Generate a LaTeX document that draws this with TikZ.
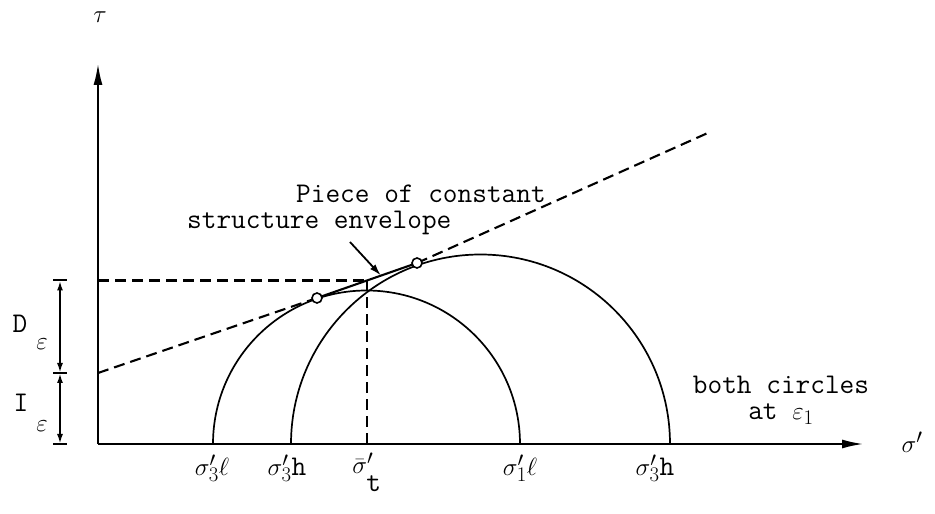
\documentclass[tikz,border=0pt]{standalone}
\usepackage{fontspec}
\usetikzlibrary{arrows.meta,calc}
\begin{document}
\begin{tikzpicture}[x=1pt,y=1pt,
  font=\ttfamily\fontsize{28.5}{26}\selectfont,
  axis/.style={line width=2.4pt,-{Latex[length=22pt,width=9pt]}},
  circ/.style={line width=1.7pt},
  envdash/.style={line width=2.1pt,dash pattern=on 11pt off 6pt},
  envsolid/.style={line width=2.1pt},
  dimline/.style={line width=2pt,{Latex[length=10pt,width=6pt]}-{Latex[length=10pt,width=6pt]}},
  dimbar/.style={line width=2pt},
  tangmark/.style={circle,draw,line width=1.6pt,fill=white,inner sep=0pt,minimum size=10pt},
  lbl/.style={inner sep=0pt}
]
\useasboundingbox (0,0) rectangle (935,514);

% key points
\coordinate (O) at (98,70);
\coordinate (Ytip) at (98,451);
\coordinate (Xtip) at (864,70);
\coordinate (E0) at (98,141);
\coordinate (T1) at (317,216);
\coordinate (T2) at (417,251);
\coordinate (E1) at (710,382);
\coordinate (H) at ($(T1)!0.5!(T2)$);
\coordinate (Hax) at (98,233.5);
\coordinate (Hbot) at (367,70);

% axes
\draw[axis] (O) -- (Ytip);
\draw[axis] (O) -- (Xtip);

% circles
\draw[circ] (213,70) arc[start angle=180,end angle=0,radius=153.5];
\draw[circ] (291,70) arc[start angle=180,end angle=0,radius=189.5];

% envelope
\draw[envdash] (E0) -- (T1);
\draw[envsolid] (T1) -- (T2);
\draw[envdash] (T2) -- (E1);
\node[tangmark] (c1) at (T1) {};
\node[tangmark] (c2) at (T2) {};

% guide lines
\draw[envdash] (Hax) -- (H);
\draw[envdash] (H) -- (Hbot);

% dimension
\coordinate (Dt) at (60,233.5);
\coordinate (Dm) at (60,141);
\coordinate (Db) at (60,70);
\draw[dimline] (Dt) -- (Dm);
\draw[dimline] (Dm) -- (Db);
\draw[dimbar] ([xshift=-7pt]Dt) -- ([xshift=7pt]Dt);
\draw[dimbar] ([xshift=-7pt]Dm) -- ([xshift=7pt]Dm);
\draw[dimbar] ([xshift=-7pt]Db) -- ([xshift=7pt]Db);
\node[lbl] (Dl) at (20,190) {D};
\node[lbl] (De) at (42,170) {$\varepsilon$};
\node[lbl] (Il) at (21,111) {I};
\node[lbl] (Ie) at (42,88) {$\varepsilon$};

% axis labels
\node[lbl] (tau) at (100,497) {$\tau$};
\node[lbl] (sig) at (912,72) {$\sigma'$};

% envelope label
\node[lbl,anchor=west] (lab1) at (296,320) {Piece of constant};
\node[lbl,anchor=west] (lab2) at (187,291) {structure envelope};
\coordinate (Atail) at (350,272);
\coordinate (Ahead) at ($(T1)!0.64!(T2)$);
\draw[line width=1.8pt,-{Latex[length=12pt,width=7pt]}] (Atail) -- (Ahead);

% right label
\node[lbl,align=center] (both) at (781,114) {both circles\\at $\varepsilon_1$};

% bottom labels
\node[lbl] (s1) at (212,46) {$\sigma'_3\ell$};
\node[lbl] (s2) at (287,46) {$\sigma'_3$h};
\node[lbl] (s3) at (367,42) {$\bar\sigma'_{\raisebox{-12pt}{\ttfamily t}}$};
\node[lbl] (s4) at (520,46) {$\sigma'_1\ell$};
\node[lbl] (s5) at (655,46) {$\sigma'_3$h};
\end{tikzpicture}
\end{document}
